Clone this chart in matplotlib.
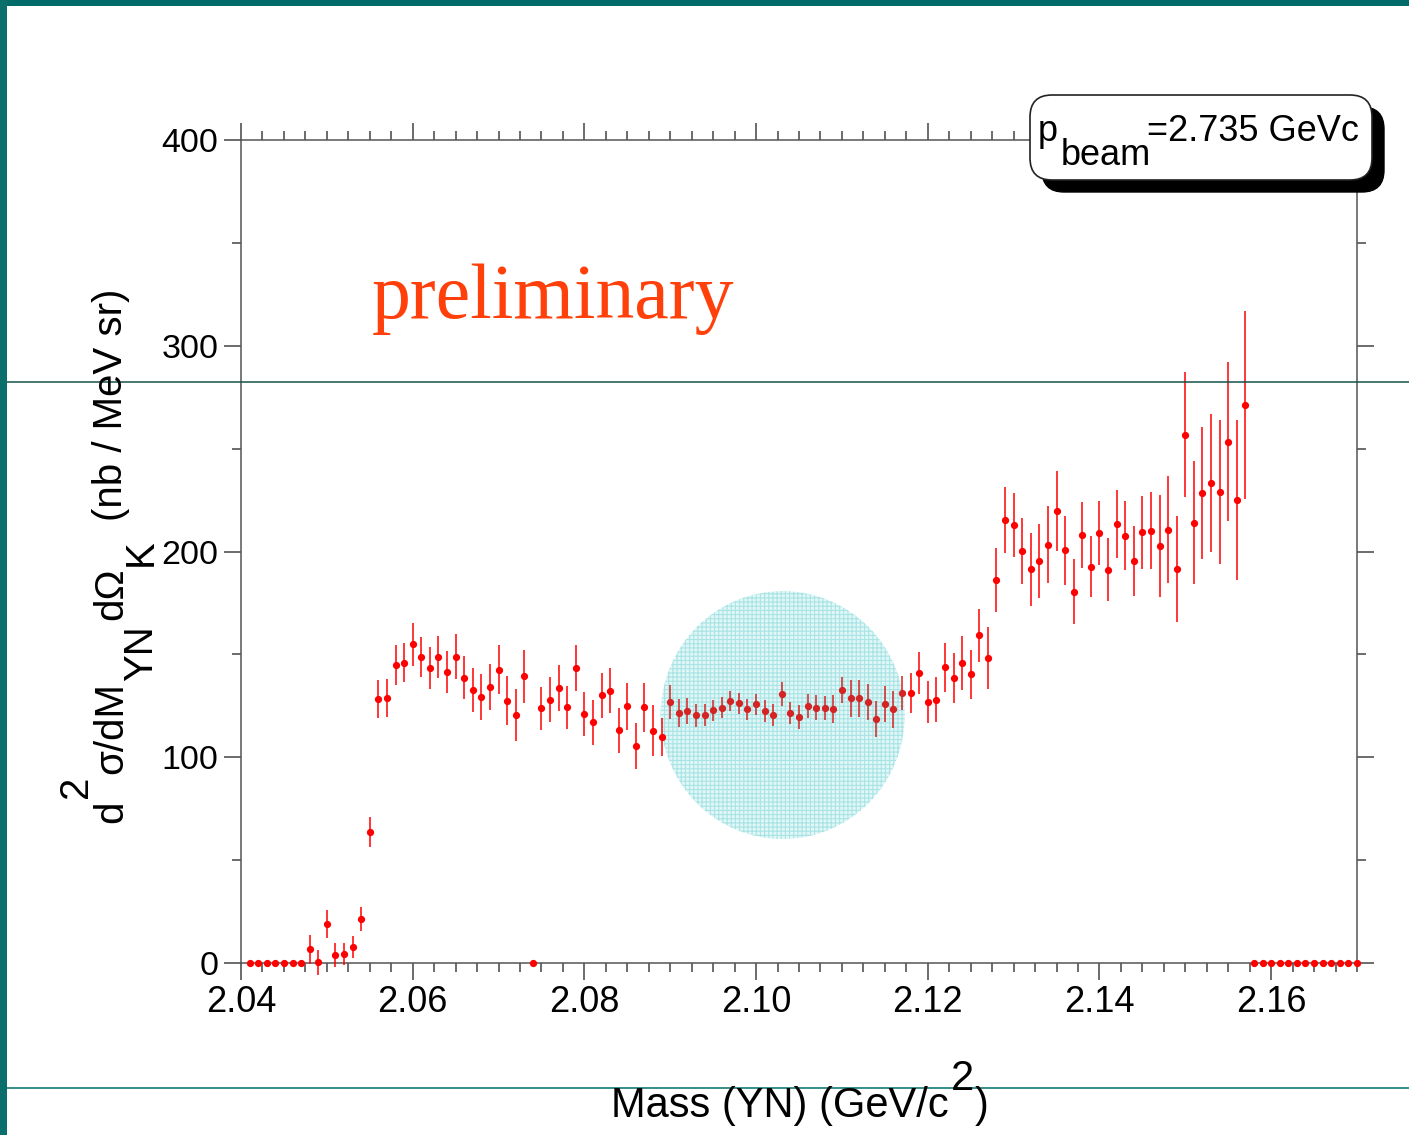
import numpy as np
import matplotlib
matplotlib.use('Agg')
import matplotlib.pyplot as plt
from matplotlib.patches import Ellipse, FancyBboxPatch, Rectangle
from matplotlib.lines import Line2D
from matplotlib.transforms import IdentityTransform
from matplotlib.ticker import MultipleLocator, FormatStrFormatter

plt.rcParams['font.family'] = ['Liberation Sans', 'DejaVu Sans']
plt.rcParams['hatch.linewidth'] = 0.8

# 1 MeV mass bins, YN invariant mass (GeV/c^2)
mass = np.round(np.arange(2.041, 2.1705, 0.001), 3)

# d2sigma/dM dOmega (nb / MeV sr) per bin
xsec = [0, 0, 0, 0, 0, 0, 0, 6.6, 0.3, 19.0,
        3.7, 4.5, 7.9, 21.4, 63.5, 128.2, 128.8, 144.7, 146.0, 154.9,
        148.6, 143.4, 148.6, 141.4, 148.9, 138.7, 132.5, 129.3, 134.1, 142.6,
        127.5, 120.4, 139.3, 0, 123.8, 128.0, 133.7, 124.3, 143.4, 121.0,
        117.0, 130.1, 132.4, 113.2, 124.8, 105.5, 124.3, 112.9, 110.0, 126.7,
        121.5, 122.5, 120.4, 120.7, 122.8, 124.1, 127.3, 126.2, 123.3, 125.7,
        122.5, 120.5, 130.7, 121.5, 119.6, 124.9, 124.1, 123.9, 123.5, 132.7,
        128.6, 128.6, 126.7, 118.6, 125.9, 123.3, 131.2, 131.2, 141.0, 126.9,
        128.0, 143.7, 138.5, 145.7, 140.3, 159.2, 148.4, 186.3, 215.3, 212.7,
        200.4, 191.3, 195.4, 203.2, 219.7, 200.6, 180.5, 207.9, 192.6, 208.8,
        191.2, 213.4, 207.7, 195.5, 209.3, 210.1, 202.7, 210.6, 191.3, 256.8,
        214.0, 228.4, 233.3, 228.8, 253.4, 224.9, 271.2, 0, 0, 0,
        0, 0, 0, 0, 0, 0, 0, 0, 0, 0]

xsec_err = [0, 0, 0, 0, 0, 0, 0, 7.0, 6.0, 6.8,
            5.8, 5.4, 5.3, 5.8, 7.3, 9.3, 9.1, 9.8, 9.6, 10.4,
            9.8, 10.0, 10.3, 10.2, 10.9, 10.5, 10.7, 11.1, 11.1, 12.0,
            12.0, 12.7, 12.7, 0, 10.5, 10.8, 11.0, 10.5, 11.3, 10.7,
            11.0, 11.0, 11.1, 10.9, 11.5, 11.1, 12.0, 12.3, 9.3, 8.2,
            6.9, 6.2, 5.5, 5.3, 5.0, 5.0, 5.0, 5.0, 5.0, 5.2,
            5.3, 5.3, 5.7, 5.4, 5.7, 6.0, 6.2, 5.9, 6.7, 6.5,
            8.9, 8.8, 8.8, 8.7, 8.7, 9.1, 8.1, 9.8, 10.2, 10.2,
            10.9, 11.8, 12.2, 13.0, 12.0, 12.7, 15.0, 15.5, 15.9, 15.6,
            16.1, 17.6, 18.0, 18.7, 19.4, 16.8, 15.8, 16.0, 14.9, 15.6,
            15.2, 16.6, 16.9, 16.9, 17.9, 18.6, 24.9, 26.0, 25.8, 30.5,
            29.8, 32.2, 33.7, 35.0, 38.6, 38.9, 45.5, 0, 0, 0,
            0, 0, 0, 0, 0, 0, 0, 0, 0, 0]

# highlighted region (centre and full width/height in data units)
spot_center = (2.1031, 120.5)
spot_size = (0.02844, 120.5)

W, H = 1409, 1135
fig = plt.figure(figsize=(W / 100, H / 100), dpi=100)
ax = fig.add_axes([241 / W, 1 - 963 / H, (1357 - 241) / W, (963 - 140) / H])

ax.add_patch(Ellipse(spot_center, spot_size[0], spot_size[1],
                     facecolor=(0.62, 0.9, 0.9, 0.3),
                     edgecolor=(0.45, 0.82, 0.82, 0.5),
                     hatch='++++', lw=0, zorder=2))

# points under the highlight look darker
y = np.array(xsec)
e = np.array(xsec_err)
inside = (((mass - spot_center[0]) / (spot_size[0] / 2)) ** 2
          + ((y - spot_center[1]) / (spot_size[1] / 2)) ** 2) < 1
ax.errorbar(mass[~inside], y[~inside], yerr=e[~inside], fmt='o', color='#ff0000',
            ms=4.2, elinewidth=1.1, capsize=0, clip_on=False, zorder=3)
ax.errorbar(mass[inside], y[inside], yerr=e[inside], fmt='o', color='#d42424',
            ms=4.2, elinewidth=1.1, capsize=0, clip_on=False, zorder=3)

ax.set_xlim(2.04, 2.17)
ax.set_ylim(0, 400)
ax.xaxis.set_major_locator(MultipleLocator(0.02))
ax.xaxis.set_minor_locator(MultipleLocator(0.0025))
ax.xaxis.set_major_formatter(FormatStrFormatter('%.2f'))
ax.yaxis.set_major_locator(MultipleLocator(100))
ax.yaxis.set_minor_locator(MultipleLocator(50))

ax.tick_params(which='both', direction='out', top=True, right=True,
               labeltop=False, labelright=False, color='#444444', width=1.1)
ax.tick_params(which='major', length=12.2, pad=4)
ax.tick_params(which='minor', length=6.5)
ax.tick_params(axis='x', labelsize=26)
ax.tick_params(axis='y', labelsize=24.5)
for sp in ax.spines.values():
    sp.set_color('#555555')
    sp.set_linewidth(1.1)

px = IdentityTransform()


def rich_text(x, y, parts, size, rotation=0, **kw):
    # parts: (string, baseline shift in px, gap before in px)
    renderer = fig.canvas.get_renderer()
    pos = 0.0
    for s, shift, gap in parts:
        pos += gap
        if rotation == 90:
            t = fig.text(x - shift, y + pos, s, rotation=90, rotation_mode='anchor',
                         ha='left', va='baseline', fontsize=size, transform=px,
                         zorder=6, **kw)
            pos += t.get_window_extent(renderer).height
        else:
            t = fig.text(x + pos, y + shift, s, ha='left', va='baseline',
                         fontsize=size, transform=px, zorder=6, **kw)
            pos += t.get_window_extent(renderer).width


# y title
rich_text(122, H - 823,
          [('d', 0, 0), ('2', 35, 2), ('σ/dM', 0, 2), ('YN', -30, 1),
           ('dΩ', 0, 6), ('K', -30, 1), ('(nb / MeV sr)', 0, 18)],
          29, rotation=90)

# x title
rich_text(611, H - 1117,
          [('Mass (YN) (GeV/c', 0, 0), ('2', 27, 2), (')', 0, 1)], 30)

# beam momentum box with drop shadow
fig.add_artist(FancyBboxPatch((1042, H - 192), 342, 85,
                              boxstyle='round,pad=0,rounding_size=22',
                              facecolor='black', edgecolor='black',
                              transform=px, zorder=5))
fig.add_artist(FancyBboxPatch((1030, H - 180), 342, 85,
                              boxstyle='round,pad=0,rounding_size=22',
                              facecolor='white', edgecolor='#222222', lw=1.2,
                              transform=px, zorder=5))
rich_text(1038, H - 141,
          [('p', 0, 0), ('beam', -24, 3), ('=2.735 GeVc', 0, -4)], 26)

fig.text(372, H - 318, 'preliminary', fontsize=56, color='#ff400a',
         family='Liberation Serif', ha='left', va='baseline', transform=px)

# slide frame decorations
fig.add_artist(Rectangle((0, H - 6), W, 6, facecolor='#006b68', lw=0,
                         transform=px, zorder=7))
fig.add_artist(Rectangle((0, 0), 7, H, facecolor='#0a6e6a', lw=0,
                         transform=px, zorder=7))
fig.add_artist(Line2D([0, W], [H - 382, H - 382], color='#15524c', lw=1.1,
                      transform=px, zorder=5))
fig.add_artist(Line2D([7, W], [H - 1088, H - 1088], color='#00706c', lw=1.1,
                      transform=px, zorder=5))

fig.savefig('out.png', dpi=100)
